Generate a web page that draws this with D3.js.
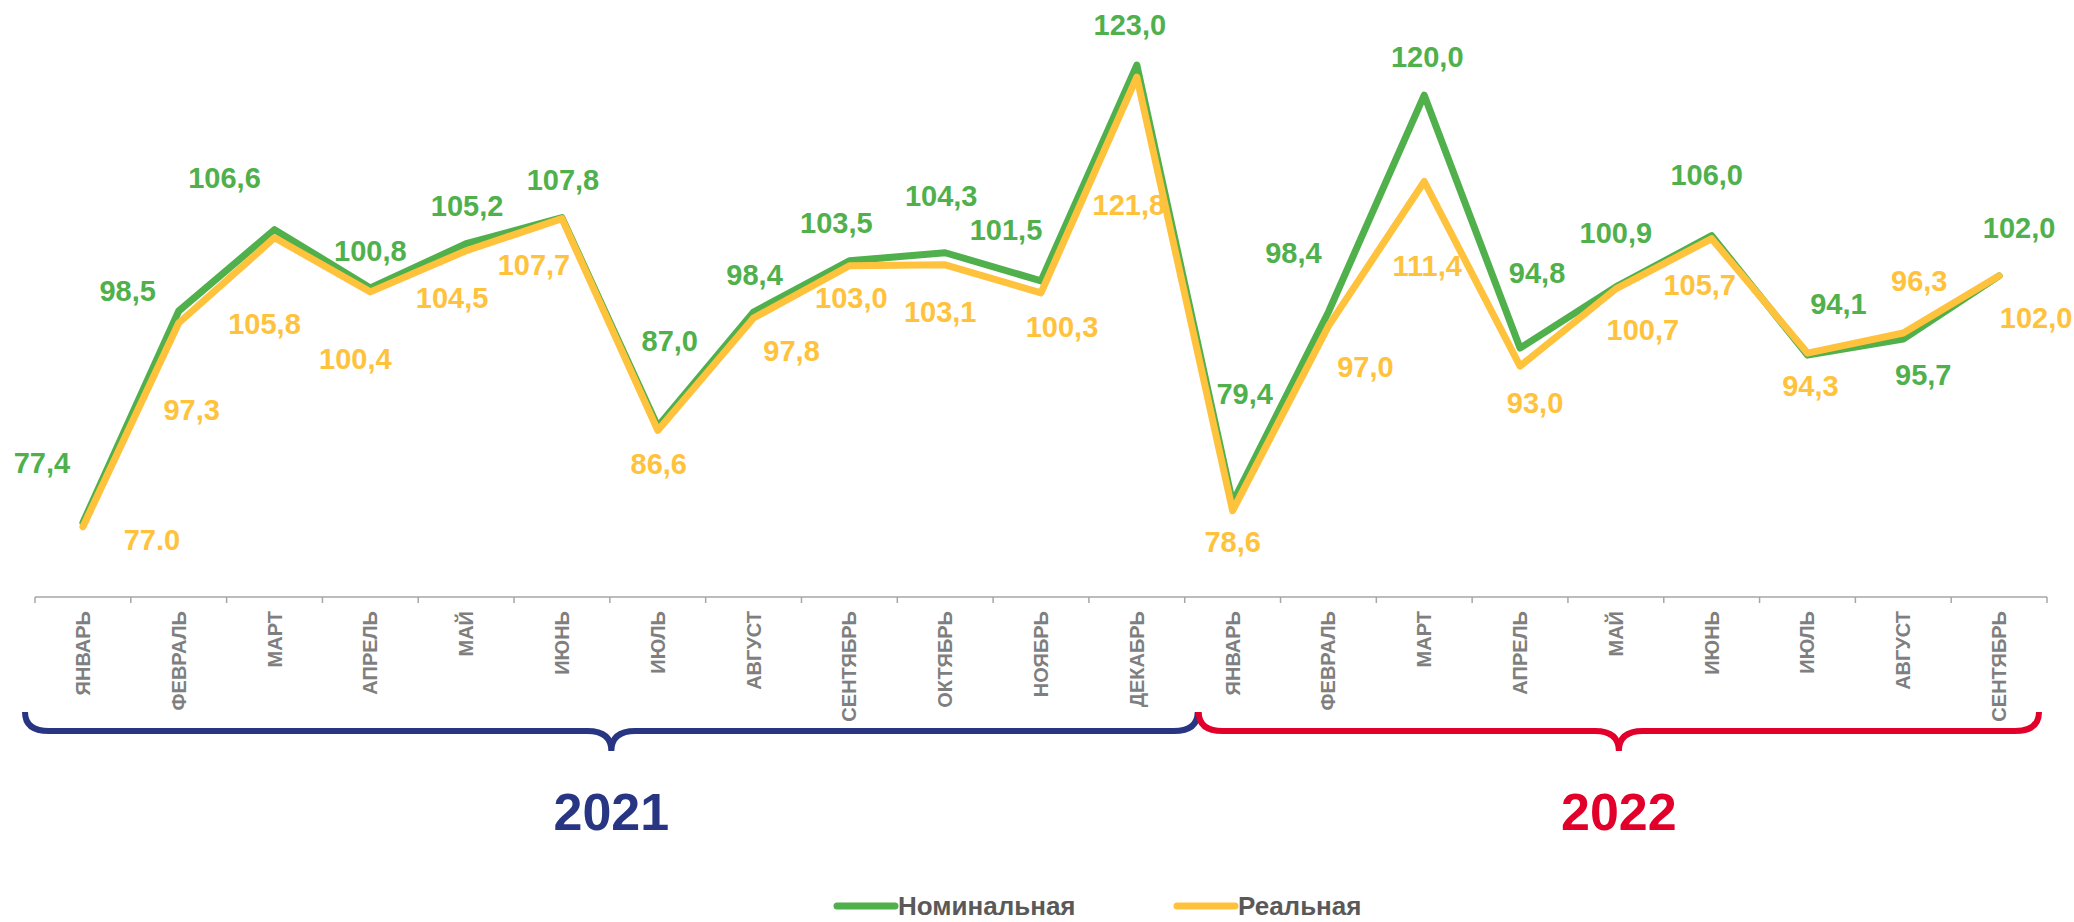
<!DOCTYPE html>
<html>
<head>
<meta charset="utf-8">
<script src="https://cdn.jsdelivr.net/npm/d3@7"></script>
<style>
    body { margin: 0; background: #fff; }
    text { font-family: "Liberation Sans", Arial, sans-serif; font-weight: bold; }
</style>
</head>
<body>
<div id="chart"></div>
<script>
const months = ["ЯНВАРЬ", "ФЕВРАЛЬ", "МАРТ", "АПРЕЛЬ", "МАЙ", "ИЮНЬ", "ИЮЛЬ", "АВГУСТ", "СЕНТЯБРЬ", "ОКТЯБРЬ", "НОЯБРЬ", "ДЕКАБРЬ",
    "ЯНВАРЬ", "ФЕВРАЛЬ", "МАРТ", "АПРЕЛЬ", "МАЙ", "ИЮНЬ", "ИЮЛЬ", "АВГУСТ", "СЕНТЯБРЬ"];
const nominal = [77.4, 98.5, 106.6, 100.8, 105.2, 107.8, 87.0, 98.4, 103.5, 104.3, 101.5, 123.0,
    79.4, 98.4, 120.0, 94.8, 100.9, 106.0, 94.1, 95.7, 102.0];
const real = [77.0, 97.3, 105.8, 100.4, 104.5, 107.7, 86.6, 97.8, 103.0, 103.1, 100.3, 121.8,
    78.6, 97.0, 111.4, 93.0, 100.7, 105.7, 94.3, 96.3, 102.0];
const years = ["2021", "2022"];
const yearSpans = [[0, 12], [12, 21]];
const seriesNames = ["Номинальная", "Реальная"];

// label nudges (px) relative to each point, placed by hand on the slide
const nominalOffsets = [[-41, -50], [-51, -10], [-50, -42], [0, -27], [1, -28], [1, -28], [12, -75], [1, -27], [-13, -28], [-4, -47], [-35, -41], [-7, -30],
    [12, -99], [-35, -49], [3, -28], [17, -65], [0, -44], [-5, -51], [31, -41], [20, 46], [20, -38]];
const realOffsets = [[69, 23], [13, 97], [-10, 96], [-15, 77], [-14, 57], [-28, 56], [1, 44], [38, 43], [2, 42], [-5, 57], [21, 44], [-8, 138],
    [0, 41], [37, 51], [3, 95], [15, 47], [27, 51], [-12, 56], [3, 43], [16, -42], [37, 52]];

const green = "#50B04C", orange = "#FFC23C", grey = "#7F7F7F";
const yearColors = ["#283583", "#E2002B"];

const fmt = v => v.toFixed(1).replace(".", ",");
const nominalLabels = nominal.map(fmt);
const realLabels = real.map(fmt);
realLabels[0] = "77.0"; // written with a point on the original

const width = 2074, height = 922;
const svg = d3.select("#chart").append("svg")
    .attr("width", width)
    .attr("height", height);

const x = d3.scaleBand()
    .domain(d3.range(months.length))
    .range([35, 2047]);
const y = d3.scaleLinear()
    .domain([70, 125])
    .range([597, 45]);

// axis line + boundary ticks
const axisY = y(70);
svg.append("line")
    .attr("x1", x.range()[0]).attr("x2", x.range()[1])
    .attr("y1", axisY).attr("y2", axisY)
    .attr("stroke", "#A6A6A6").attr("stroke-width", 1.5);
svg.selectAll(".tick")
    .data(d3.range(months.length + 1))
    .enter().append("line")
    .attr("x1", i => x.range()[0] + i * x.bandwidth())
    .attr("x2", i => x.range()[0] + i * x.bandwidth())
    .attr("y1", axisY).attr("y2", axisY + 6)
    .attr("stroke", "#A6A6A6").attr("stroke-width", 1.5);

svg.selectAll(".month")
    .data(months)
    .enter().append("text")
    .attr("transform", (d, i) => `translate(${x(i) + x.bandwidth() / 2},${axisY + 14}) rotate(-90)`)
    .attr("text-anchor", "end")
    .attr("dominant-baseline", "central")
    .attr("font-size", 20)
    .attr("fill", grey)
    .text(d => d);

// braces under the months
const braceTop = 712, braceBar = 731, braceTip = 751;
yearSpans.forEach((span, k) => {
    const x0 = x.range()[0] + span[0] * x.bandwidth() + (k === 0 ? -10 : 14);
    const x1 = x.range()[0] + span[1] * x.bandwidth() + (k === 0 ? 13 : -8);
    const xc = (x0 + x1) / 2;
    const r = 24;
    const p = d3.path();
    p.moveTo(x0, braceTop);
    p.quadraticCurveTo(x0, braceBar, x0 + r, braceBar);
    p.lineTo(xc - r, braceBar);
    p.quadraticCurveTo(xc, braceBar, xc, braceTip);
    p.quadraticCurveTo(xc, braceBar, xc + r, braceBar);
    p.lineTo(x1 - r, braceBar);
    p.quadraticCurveTo(x1, braceBar, x1, braceTop);
    svg.append("path")
        .attr("d", p.toString())
        .attr("fill", "none")
        .attr("stroke", yearColors[k])
        .attr("stroke-width", 6);
    svg.append("text")
        .attr("x", xc)
        .attr("y", 830)
        .attr("text-anchor", "middle")
        .attr("font-size", 52)
        .attr("fill", yearColors[k])
        .text(years[k]);
});

const line = d3.line()
    .x((d, i) => x(i) + x.bandwidth() / 2)
    .y(d => y(d));

[[nominal, green], [real, orange]].forEach(([values, color]) => {
    svg.append("path")
        .datum(values)
        .attr("d", line)
        .attr("fill", "none")
        .attr("stroke", color)
        .attr("stroke-width", 7)
        .attr("stroke-linejoin", "round")
        .attr("stroke-linecap", "round");
});

function drawLabels(values, labels, offsets, color) {
    svg.append("g").selectAll("text")
        .data(values)
        .enter().append("text")
        .attr("x", (d, i) => x(i) + x.bandwidth() / 2 + offsets[i][0])
        .attr("y", (d, i) => y(d) + offsets[i][1])
        .attr("text-anchor", "middle")
        .attr("font-size", 29)
        .attr("fill", color)
        .text((d, i) => labels[i]);
}
drawLabels(nominal, nominalLabels, nominalOffsets, green);
drawLabels(real, realLabels, realOffsets, orange);

// legend
const legend = svg.append("g").attr("transform", "translate(837,906)");
const legendX = [0, 340];
seriesNames.forEach((name, i) => {
    const g = legend.append("g").attr("transform", `translate(${legendX[i]},0)`);
    g.append("line")
        .attr("x1", 0).attr("x2", 58)
        .attr("stroke", i === 0 ? green : orange)
        .attr("stroke-width", 7)
        .attr("stroke-linecap", "round");
    g.append("text")
        .attr("x", 61)
        .attr("y", 9)
        .attr("font-size", 26)
        .attr("fill", "#595959")
        .text(name);
});
</script>
</body>
</html>
